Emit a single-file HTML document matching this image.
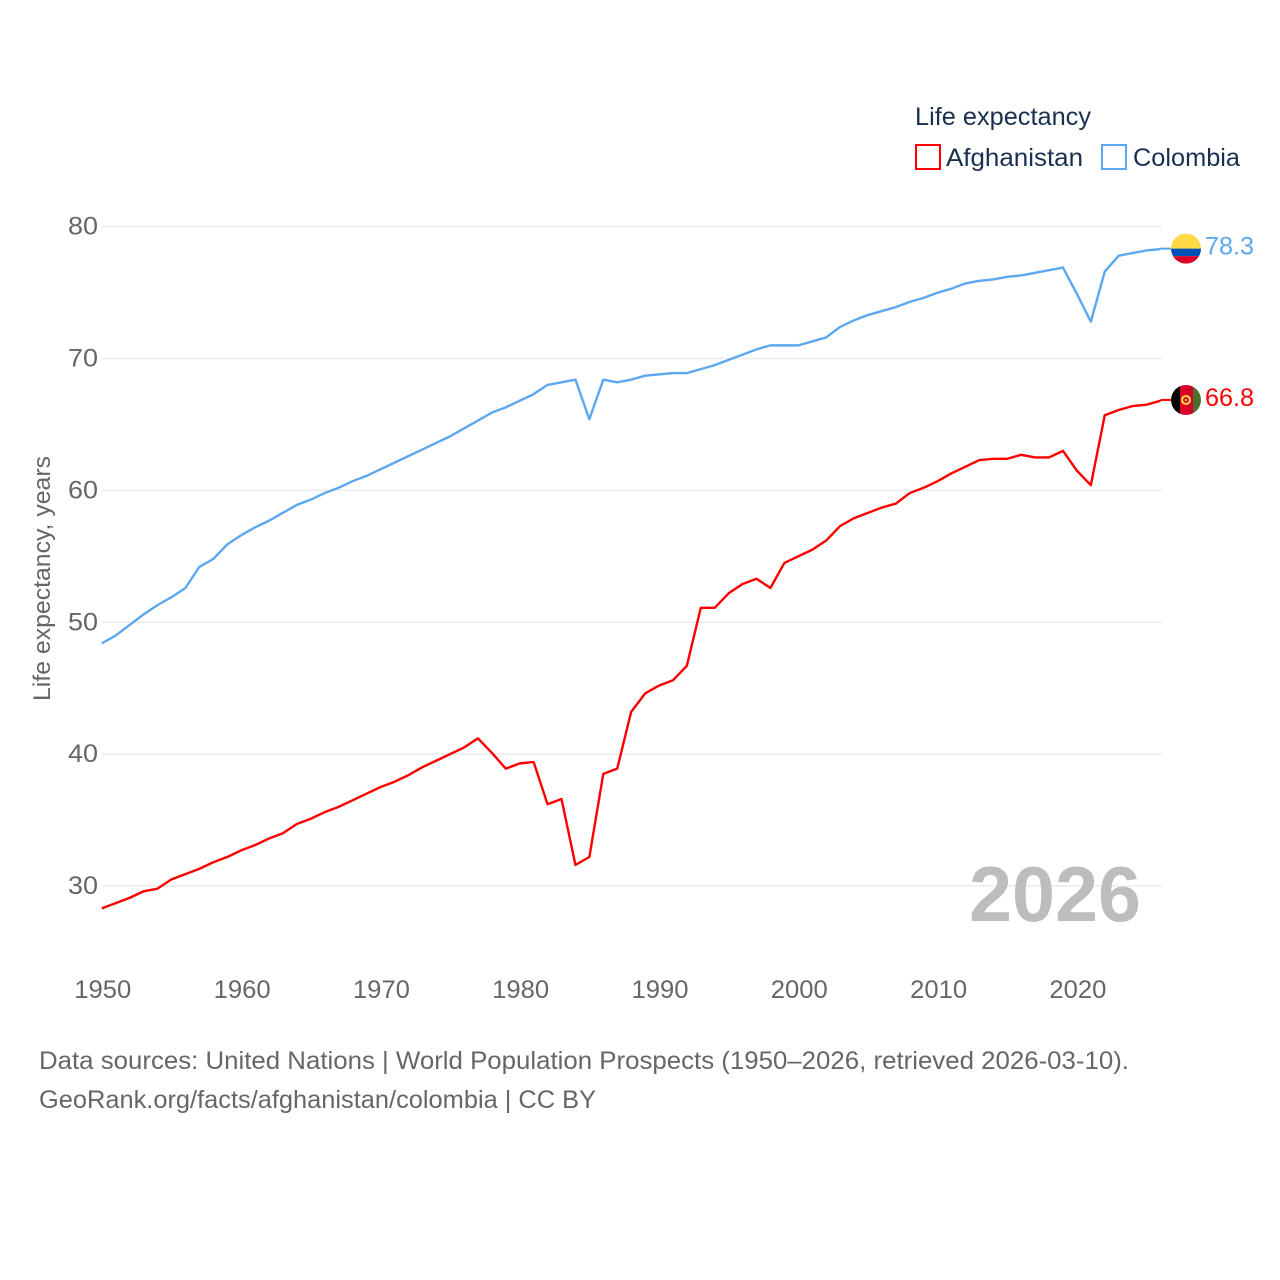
<!DOCTYPE html>
<html lang="en">
<head>
<meta charset="utf-8">
<title>Life expectancy: Afghanistan and Colombia</title>
<style>
html,body{margin:0;padding:0;background:#fff;}
svg{display:block;}
text{font-family:"Liberation Sans",sans-serif;}
</style>
</head>
<body>
<svg id="chart" xmlns="http://www.w3.org/2000/svg" width="1280" height="1280" viewBox="0 0 1280 1280">
  <rect width="1280" height="1280" fill="#ffffff"/>
  <g id="grid"></g>
  <g id="yticks"></g>
  <g id="xticks"></g>
  <text transform="translate(50,701) rotate(-90)" font-size="24" fill="#666666" textLength="245" lengthAdjust="spacingAndGlyphs">Life expectancy, years</text>
  <g id="series"></g>
  <g id="end-markers"></g>
  <text x="969" y="921" font-size="78" font-weight="700" fill="#bdbdbd" textLength="172" lengthAdjust="spacingAndGlyphs">2026</text>
  <g>
    <text x="915" y="125" font-size="25" fill="#1a3050" textLength="176" lengthAdjust="spacingAndGlyphs">Life expectancy</text>
    <rect x="916" y="145" width="24" height="24" fill="none" stroke="#ff0000" stroke-width="2"/>
    <text x="946" y="166" font-size="25" fill="#1a3050" textLength="137" lengthAdjust="spacingAndGlyphs">Afghanistan</text>
    <rect x="1102" y="145" width="24" height="24" fill="none" stroke="#5ca8f0" stroke-width="2"/>
    <text x="1133" y="166" font-size="25" fill="#1a3050" textLength="107" lengthAdjust="spacingAndGlyphs">Colombia</text>
  </g>
  <text x="39" y="1069" font-size="25" fill="#666666" textLength="1090" lengthAdjust="spacingAndGlyphs">Data sources: United Nations | World Population Prospects (1950–2026, retrieved 2026-03-10).</text>
  <text x="39" y="1108" font-size="25" fill="#666666" textLength="557" lengthAdjust="spacingAndGlyphs">GeoRank.org/facts/afghanistan/colombia | CC BY</text>
</svg>
<script>
const startYear = 1950;
const yTickValues = [80, 70, 60, 50, 40, 30];
const xTickValues = [1950, 1960, 1970, 1980, 1990, 2000, 2010, 2020];
const afghanistanValues = [
  28.3, 28.7, 29.1, 29.6, 29.8, 30.5, 30.9, 31.3, 31.8, 32.2,
  32.7, 33.1, 33.6, 34.0, 34.7, 35.1, 35.6, 36.0, 36.5, 37.0,
  37.5, 37.9, 38.4, 39.0, 39.5, 40.0, 40.5, 41.2, 40.1, 38.9,
  39.3, 39.4, 36.2, 36.6, 31.6, 32.2, 38.5, 38.9, 43.2, 44.6,
  45.2, 45.6, 46.7, 51.1, 51.1, 52.2, 52.9, 53.3, 52.6, 54.5,
  55.0, 55.5, 56.2, 57.3, 57.9, 58.3, 58.7, 59.0, 59.8, 60.2,
  60.7, 61.3, 61.8, 62.3, 62.4, 62.4, 62.7, 62.5, 62.5, 63.0,
  61.5, 60.4, 65.7, 66.1, 66.4, 66.5, 66.8
];
const colombiaValues = [
  48.4, 49.0, 49.8, 50.6, 51.3, 51.9, 52.6, 54.2, 54.8, 55.9,
  56.6, 57.2, 57.7, 58.3, 58.9, 59.3, 59.8, 60.2, 60.7, 61.1,
  61.6, 62.1, 62.6, 63.1, 63.6, 64.1, 64.7, 65.3, 65.9, 66.3,
  66.8, 67.3, 68.0, 68.2, 68.4, 65.4, 68.4, 68.2, 68.4, 68.7,
  68.8, 68.9, 68.9, 69.2, 69.5, 69.9, 70.3, 70.7, 71.0, 71.0,
  71.0, 71.3, 71.6, 72.4, 72.9, 73.3, 73.6, 73.9, 74.3, 74.6,
  75.0, 75.3, 75.7, 75.9, 76.0, 76.2, 76.3, 76.5, 76.7, 76.9,
  74.9, 72.8, 76.6, 77.8, 78.0, 78.2, 78.3
];
const afghanistanColor = "#ff0000";
const colombiaColor = "#5ca8f0";

const NS = "http://www.w3.org/2000/svg";
const plotLeft = 102;
const plotRight = 1162;
const xScale = function (year) { return 101.8 + (year - 1950) * 13.93; };
const yScale = function (value) { return 226.7 + (80 - value) * 13.186; };

function make(tag, attrs, parent) {
  const el = document.createElementNS(NS, tag);
  for (const k in attrs) el.setAttribute(k, attrs[k]);
  parent.appendChild(el);
  return el;
}
function fmt(n) { return n.toFixed(2); }

const gridG = document.getElementById("grid");
const yG = document.getElementById("yticks");
const xG = document.getElementById("xticks");
const seriesG = document.getElementById("series");
const endG = document.getElementById("end-markers");

yTickValues.forEach(function (v) {
  const line = make("line", { x1: plotLeft, x2: plotRight, y1: fmt(yScale(v)), y2: fmt(yScale(v)), stroke: "#ebebeb", "stroke-width": 1.5 }, gridG);
  
  
  const t = make("text", { x: 98, y: fmt(yScale(v) + 8), "text-anchor": "end", "font-size": 25, fill: "#666666", textLength: 30, lengthAdjust: "spacingAndGlyphs" }, yG);
  
  
  t.textContent = String(v);
});

xTickValues.forEach(function (v) {
  const t = make("text", { x: fmt(xScale(v) + 1), y: 998, "text-anchor": "middle", "font-size": 25, fill: "#666666", textLength: 57, lengthAdjust: "spacingAndGlyphs" }, xG);
  
  
  t.textContent = String(v);
});

function linePoints(values) {
  return values.map(function (v, i) {
    return fmt(xScale(startYear + i)) + "," + fmt(yScale(v));
  }).join(" ");
}

const afghanLine = make("polyline", { points: linePoints(afghanistanValues), fill: "none", stroke: afghanistanColor, "stroke-width": 2.4, "stroke-linejoin": "round" }, seriesG);


const colombiaLine = make("polyline", { points: linePoints(colombiaValues), fill: "none", stroke: colombiaColor, "stroke-width": 2.4, "stroke-linejoin": "round" }, seriesG);



const flagX = 1186;
const flagR = 15;

function clipCircle(id, cy) {
  const cp = make("clipPath", { id: id }, endG);
  make("circle", { cx: flagX, cy: fmt(cy), r: flagR }, cp);
}

function endConnector(cy, color) {
  const c = make("line", { x1: xScale(2026), x2: flagX - flagR, y1: fmt(cy), y2: fmt(cy), stroke: color, "stroke-width": 2 }, endG);
  
  
}

function endLabel(cy, color, value) {
  const t = make("text", { x: 1205, y: fmt(cy + 5.8), "font-size": 25, fill: color, textLength: 49, lengthAdjust: "spacingAndGlyphs" }, endG);
  
  
  t.textContent = value.toFixed(1);
}

/* Colombia flag */
const coY = yScale(colombiaValues[colombiaValues.length - 1]) - 0.5;
endConnector(coY, colombiaColor);
clipCircle("clip-co", coY);
const coFlag = make("g", { "clip-path": "url(#clip-co)" }, endG);


make("rect", { x: flagX - flagR, y: fmt(coY - flagR), width: flagR * 2, height: flagR, fill: "#ffda44" }, coFlag);
make("rect", { x: flagX - flagR, y: fmt(coY), width: flagR * 2, height: 7.5, fill: "#0052b4" }, coFlag);
make("rect", { x: flagX - flagR, y: fmt(coY + 7.5), width: flagR * 2, height: 7.5, fill: "#d80027" }, coFlag);
endLabel(coY, colombiaColor, colombiaValues[colombiaValues.length - 1]);

/* Afghanistan flag */
const afY = yScale(afghanistanValues[afghanistanValues.length - 1]) - 0.8;
endConnector(afY, afghanistanColor);
clipCircle("clip-af", afY);
const afFlag = make("g", { "clip-path": "url(#clip-af)" }, endG);


make("rect", { x: flagX - flagR, y: fmt(afY - flagR), width: 9, height: flagR * 2, fill: "#000000" }, afFlag);
make("rect", { x: flagX - 6, y: fmt(afY - flagR), width: 13, height: flagR * 2, fill: "#d80027" }, afFlag);
make("rect", { x: flagX + 7, y: fmt(afY - flagR), width: 8, height: flagR * 2, fill: "#496e2d" }, afFlag);
make("circle", { cx: flagX, cy: fmt(afY), r: 4, fill: "none", stroke: "#ffda44", "stroke-width": 2 }, afFlag);
make("circle", { cx: flagX, cy: fmt(afY), r: 1.5, fill: "#c89a20" }, afFlag);
endLabel(afY, afghanistanColor, afghanistanValues[afghanistanValues.length - 1]);
</script>
</body>
</html>
